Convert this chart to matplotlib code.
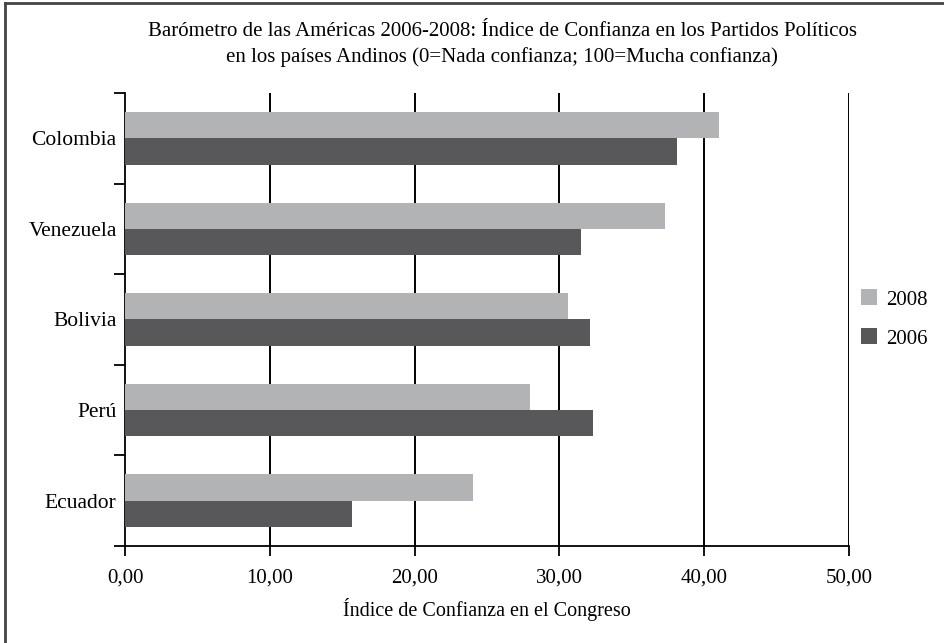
import matplotlib
matplotlib.use("Agg")
import matplotlib.pyplot as plt
import numpy as np
from matplotlib.lines import Line2D

plt.rcParams['font.family'] = ['Liberation Serif', 'DejaVu Serif']

# datos
paises = ['Colombia', 'Venezuela', 'Bolivia', 'Perú', 'Ecuador']
v2008 = [41.0, 37.3, 30.6, 28.0, 24.0]
v2006 = [38.1, 31.5, 32.1, 32.3, 15.7]
xticks = [0, 10, 20, 30, 40, 50]

W, H = 944, 643
fig = plt.figure(figsize=(W / 100, H / 100), dpi=100)
ax = fig.add_axes([125 / W, 1 - 546 / H, 724 / W, (546 - 93) / H])

y = np.arange(len(paises))
h = 0.29
ax.barh(y - h / 2, v2008, height=h, color='#b2b3b5', label='2008', zorder=3)
ax.barh(y + h / 2, v2006, height=h, color='#58585a', label='2006', zorder=3)

ax.set_xlim(0, 50)
ax.set_ylim(len(paises) - 0.5, -0.5)

# rejilla vertical
for xv in xticks[1:]:
    ax.axvline(xv, color='black', lw=1.4, zorder=1)

ax.set_xticks(xticks)
ax.set_xticklabels([('%.2f' % v).replace('.', ',') for v in xticks])
ax.set_yticks(np.arange(len(paises) + 1) - 0.5)
ax.set_yticklabels([])
ax.set_yticks(y, minor=True)
ax.set_yticklabels(paises, minor=True)
ax.tick_params(axis='y', which='minor', length=0, pad=6, labelsize=15.5)
ax.tick_params(axis='y', which='major', length=8, width=1.3, direction='out')
ax.tick_params(axis='x', length=7, width=1.3, direction='out', pad=9, labelsize=15)

for s in ['top', 'right']:
    ax.spines[s].set_visible(False)
ax.spines['left'].set_linewidth(1.3)
ax.spines['bottom'].set_linewidth(1.3)

ax.set_xlabel('Índice de Confianza en el Congreso', fontsize=14.5, labelpad=8)

fig.text(502 / W, 1 - 32 / H,
         'Barómetro de las Américas 2006-2008: Índice de Confianza en los Partidos Políticos',
         ha='center', va='center', fontsize=15)
fig.text(502 / W, 1 - 57 / H,
         'en los países Andinos (0=Nada confianza; 100=Mucha confianza)',
         ha='center', va='center', fontsize=15)

fig.legend(loc='center left', bbox_to_anchor=(842 / W, 1 - 319 / H), frameon=False,
           fontsize=15, handlelength=0.8, handleheight=0.8, handletextpad=0.4,
           labelspacing=0.9)

# marco
fig.add_artist(Line2D([5 / W, 1], [1 - 2.5 / H, 1 - 2.5 / H], color='#444444', lw=2))
fig.add_artist(Line2D([5 / W, 5 / W], [0, 1 - 2.5 / H], color='#444444', lw=2))

fig.savefig('out.png', dpi=100)
